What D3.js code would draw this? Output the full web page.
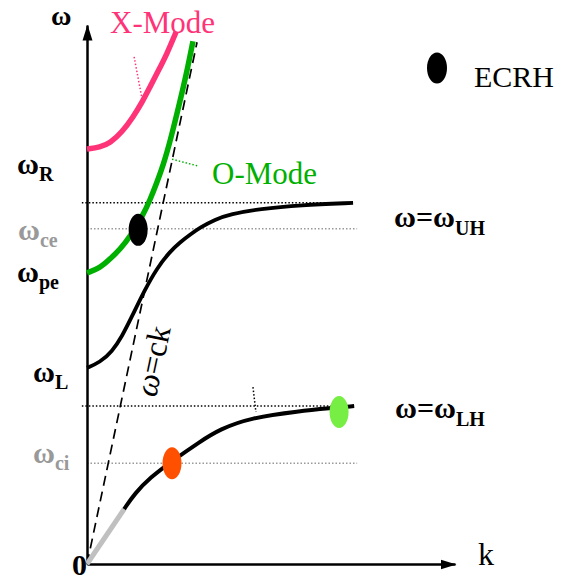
<!DOCTYPE html>
<html>
<head>
<meta charset="utf-8">
<script src="https://cdn.jsdelivr.net/npm/d3@7"></script>
<style>
  body { margin: 0; background: #fff; }
  text { font-family: "Liberation Serif", "Times New Roman", serif; }
</style>
</head>
<body>
<div id="chart"></div>
<script>
// dispersion branches, [k, omega] in arbitrary units (0..100)
var xMode = [[0, 77.0], [3.5, 77.3], [6.3, 78.1], [9.5, 80.1], [12.5, 82.9], [15.0, 85.7],
  [17.1, 88.5], [19.3, 91.4], [21.7, 94.6], [24.2, 98.7]];
var oMode = [[0, 54.0], [3.5, 54.9], [6.3, 56.6], [9.0, 58.4], [11.7, 60.7], [15.2, 64.7],
  [17.1, 67.5], [19.0, 70.8], [20.7, 74.0], [22.6, 78.4], [25.3, 85.9], [27.2, 91.5], [28.8, 97.0]];
var upperHybrid = [[0, 36.4], [3.5, 37.4], [6.8, 39.4], [9.5, 42.2], [12.2, 45.9], [15.5, 50.6],
  [19.0, 54.9], [22.6, 58.0], [25.3, 59.7], [28.0, 61.1], [30.7, 62.4], [34.8, 63.9],
  [38.9, 64.9], [47.0, 65.9], [57.9, 66.6], [72.3, 67.0]];
var lowerGray = [[0, 0], [10.1, 10.2]];
var lowerHybrid = [[10.1, 10.2], [10.1, 10.2], [13.0, 13.1], [17.1, 16.0], [23.1, 19.1], [30.7, 22.7],
  [36.1, 25.0], [44.3, 27.1], [57.9, 28.4], [66.0, 28.9], [72.6, 29.3]];
var lightLine = [[0, 0], [29.9, 96.8]];

// horizontal reference levels
var levels = [
  {name: "UH", w: 67.0, k0: -1.4, k1: 72.8, color: "#000"},
  {name: "ce", w: 62.2, k0: 0, k1: 73.4, color: "#999"},
  {name: "LH", w: 29.3, k0: -1.4, k1: 72.8, color: "#000"},
  {name: "ci", w: 18.7, k0: 0, k1: 73.4, color: "#999"}
];

// resonance / heating points
var points = [
  {k: 13.9, w: 62.0, color: "#000"},
  {k: 23.1, w: 18.7, color: "#ff5000"},
  {k: 68.5, w: 28.2, color: "#77ee44"}
];

// little dotted leader lines from the curve labels
var leaders = [
  {a: [12.8, 94.1], b: [14.9, 86.5], color: "#ff3377"},
  {a: [23.1, 75.1], b: [30.4, 73.8], color: "#00b000"},
  {a: [45.1, 32.8], b: [45.9, 28.2], color: "#000"}
];

// left labels: subscript, colour
var leftLabels = [
  {sub: "R", color: "#000"},
  {sub: "ce", color: "#999"},
  {sub: "pe", color: "#000"},
  {sub: "L", color: "#000"},
  {sub: "ci", color: "#999"}
];
var rightLabels = ["UH", "LH"];

var width = 561, height = 583;

var svg = d3.select("#chart")
  .append("svg")
  .attr("width", width)
  .attr("height", height);

var x = d3.scaleLinear().domain([0, 100]).range([87, 455]);
var y = d3.scaleLinear().domain([0, 100]).range([564, 25]);

// arrow marker
svg.append("defs").append("marker")
  .attr("id", "arrow")
  .attr("markerUnits", "userSpaceOnUse")
  .attr("viewBox", "0 -6 16 12")
  .attr("refX", 15)
  .attr("refY", 0)
  .attr("markerWidth", 16)
  .attr("markerHeight", 12)
  .attr("orient", "auto")
  .append("path")
  .attr("d", "M0,-5L16,0L0,5Z")
  .attr("fill", "#000");

// dotted levels
svg.selectAll(".level")
  .data(levels)
  .join("line")
  .attr("x1", d => x(d.k0))
  .attr("x2", d => x(d.k1))
  .attr("y1", d => y(d.w))
  .attr("y2", d => y(d.w))
  .attr("stroke", d => d.color)
  .attr("stroke-width", 1.5)
  .attr("stroke-dasharray", "1.5,2");

// axes without ticks
svg.append("g")
  .attr("transform", "translate(" + x(0) + ",0)")
  .call(d3.axisLeft(y).tickValues([]).tickSizeOuter(0));
svg.append("g")
  .attr("transform", "translate(0," + y(0) + ")")
  .call(d3.axisBottom(x).tickValues([]).tickSizeOuter(0));
svg.selectAll(".domain")
  .attr("stroke", "#000")
  .attr("stroke-width", 2.5)
  .attr("marker-end", "url(#arrow)");

var line = d3.line()
  .x(d => x(d[0]))
  .y(d => y(d[1]))
  .curve(d3.curveBasis);

// light line w = ck
svg.append("path")
  .attr("d", line(lightLine))
  .attr("fill", "none")
  .attr("stroke", "#000")
  .attr("stroke-width", 1.7)
  .attr("stroke-dasharray", "10,6");

// curves
svg.append("path").attr("d", line(upperHybrid))
  .attr("fill", "none").attr("stroke", "#000").attr("stroke-width", 3.8);
svg.append("path").attr("d", line(lowerGray))
  .attr("fill", "none").attr("stroke", "#c0c0c0").attr("stroke-width", 5);
svg.append("path").attr("d", line(lowerHybrid))
  .attr("fill", "none").attr("stroke", "#000").attr("stroke-width", 4);
svg.append("path").attr("d", line(oMode))
  .attr("fill", "none").attr("stroke", "#00b000").attr("stroke-width", 5.5);
svg.append("path").attr("d", line(xMode))
  .attr("fill", "none").attr("stroke", "#ff3377").attr("stroke-width", 5.5);

// leaders
svg.selectAll(".leader")
  .data(leaders)
  .join("line")
  .attr("x1", d => x(d.a[0]))
  .attr("y1", d => y(d.a[1]))
  .attr("x2", d => x(d.b[0]))
  .attr("y2", d => y(d.b[1]))
  .attr("stroke", d => d.color)
  .attr("stroke-width", 1.5)
  .attr("stroke-dasharray", "1.5,2");

// points
svg.selectAll(".pt")
  .data(points)
  .join("ellipse")
  .attr("cx", d => x(d.k))
  .attr("cy", d => y(d.w))
  .attr("rx", 9.5)
  .attr("ry", 16)
  .attr("fill", d => d.color);

// ECRH legend
svg.append("ellipse")
  .attr("cx", 437).attr("cy", 68).attr("rx", 10).attr("ry", 15.5).attr("fill", "#000");
svg.append("text").attr("x", 474).attr("y", 87)
  .attr("font-size", 30).text("ECRH");

// curve names
svg.append("text").attr("x", 110).attr("y", 33)
  .attr("font-size", 31).attr("fill", "#ff3377").text("X-Mode");
svg.append("text").attr("x", 212).attr("y", 184)
  .attr("font-size", 31).attr("fill", "#00b000").text("O-Mode");

// axis names
svg.append("text").attr("x", 51).attr("y", 25)
  .attr("font-size", 28).attr("font-weight", "bold").text("ω");
svg.append("text").attr("x", 478).attr("y", 565)
  .attr("font-size", 32).text("k");
svg.append("text").attr("x", 72).attr("y", 575)
  .attr("font-size", 30).attr("font-weight", "bold").text("0");

// w = ck label along the dashed line
var ck = svg.append("text")
  .attr("transform", "translate(156,398) rotate(-78)")
  .attr("font-size", 32);
ck.append("tspan").attr("font-style", "italic").text("ω");
ck.append("tspan").text("=ck");

// left labels
var leftPos = [[17, 174], [18, 240], [17, 282], [33, 382], [33, 463]];
leftLabels.forEach(function(d, i) {
  var t = svg.append("text")
    .attr("x", leftPos[i][0]).attr("y", leftPos[i][1])
    .attr("font-weight", "bold")
    .attr("fill", d.color);
  t.append("tspan").attr("font-size", 30).text("ω");
  t.append("tspan").attr("font-size", 20).attr("dy", 7).text(d.sub);
});

// right labels
var rightPos = [[394, 227], [395, 418]];
rightLabels.forEach(function(d, i) {
  var t = svg.append("text")
    .attr("x", rightPos[i][0]).attr("y", rightPos[i][1])
    .attr("font-weight", "bold");
  t.append("tspan").attr("font-size", 30).text("ω=ω");
  t.append("tspan").attr("font-size", 20).attr("dy", 8).text(d);
});
</script>
</body>
</html>
